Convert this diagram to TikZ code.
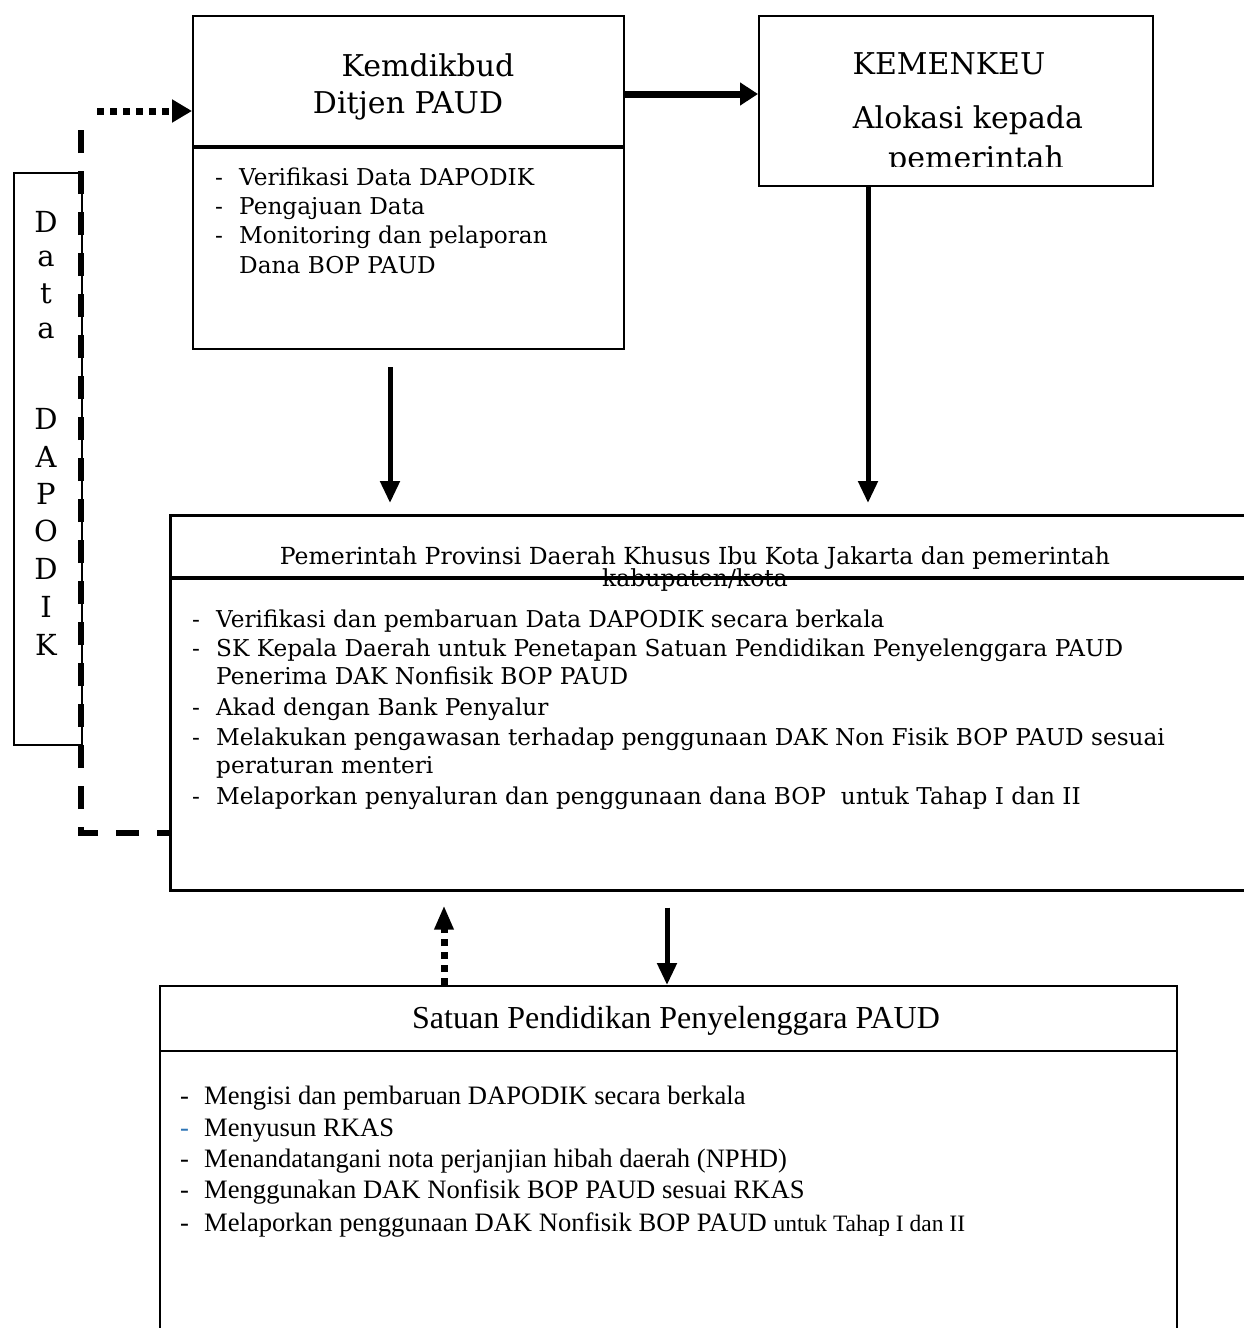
\documentclass[tikz,border=0pt]{standalone}
\usepackage{fontspec}
\setmainfont{DejaVu Serif}
\newfontfamily\tnr{Liberation Serif}
\usetikzlibrary{arrows.meta}
\definecolor{dashblue}{RGB}{46,117,182}
\begin{document}
\begin{tikzpicture}[x=1pt,y=-1pt,
  box/.style={draw,line width=2pt,inner sep=0,anchor=north west},
  divider/.style={line width=3.5pt},
  txt/.style={inner sep=0,anchor=base west,font=\fontsize{23.2}{28}\selectfont},
  ttl/.style={inner sep=0,anchor=base,font=\fontsize{30}{36}\selectfont},
  ptl/.style={inner sep=0,anchor=base,font=\fontsize{23.5}{28}\selectfont},
  vlet/.style={inner sep=0,anchor=base,font=\fontsize{29}{34}\selectfont},
  tr/.style={inner sep=0,anchor=base west,font=\tnr\fontsize{26.6}{32}\selectfont},
  trt/.style={inner sep=0,anchor=base,font=\tnr\fontsize{32}{38}\selectfont},
  varr/.style={line width=5pt,-{Triangle[length=22pt,width=19pt]}},
  harr/.style={line width=7pt,-{Triangle[length=18pt,width=22pt]}},
  dashline/.style={line width=6pt,dash pattern=on 23pt off 18pt},
  dotline/.style={line width=7pt,dash pattern=on 7pt off 6pt},
]
\clip (0,0) rectangle (1244,1328);
\fill[white] (0,0) rectangle (1244,1328);

% ---------- boxes ----------
\node[box,minimum width=431pt,minimum height=333pt] (kemd) at (192,15) {};
\node[box,minimum width=394pt,minimum height=170pt] (kem) at (758,15) {};
\node[box,minimum width=1100pt,minimum height=375pt,line width=2.5pt] (pemda) at (169,514) {};
\node[box,minimum width=1017pt,minimum height=360pt] (sat) at (159,985) {};
\node[box,minimum width=68pt,minimum height=572pt] (dapo) at (13,172) {};

\draw[divider] (kemd.west |- 0,147) -- (kemd.east |- 0,147);
\draw[divider] (pemda.west |- 0,578) -- (1244,578);
\draw[line width=2.5pt] (sat.west |- 0,1051) -- (sat.east |- 0,1051);

% ---------- Kemdikbud ----------
\node[ttl] (kt1) at (428,76) {Kemdikbud};
\node[ttl] (kt2) at (408,113) {Ditjen PAUD};
\foreach \y [count=\i] in {185,214,243}
  \node[txt] (kdd\i) at (215,\y) {-};
\node[txt] (kd1) at (239,185) {Verifikasi Data DAPODIK};
\node[txt] (kd2) at (239,214) {Pengajuan Data};
\node[txt] (kd3) at (239,243) {Monitoring dan pelaporan};
\node[txt] (kd4) at (239,273) {Dana BOP PAUD};

% ---------- KEMENKEU ----------
\node[ttl] (km1) at (949,74) {KEMENKEU};
\node[ttl] (km2) at (968,128) {Alokasi kepada};
\begin{scope}
  \clip (758,15) rectangle (1152,166);
  \node[ttl] (km3) at (976,168) {pemerintah};
\end{scope}

% ---------- Pemerintah Daerah ----------
\node[ptl] (pt1) at (695,564) {Pemerintah Provinsi Daerah Khusus Ibu Kota Jakarta dan pemerintah};
\node[ptl] (pt2) at (695,586) {kabupaten/kota};
\foreach \y [count=\i] in {627,656,715,745,804}
  \node[txt] (pdd\i) at (192,\y) {-};
\node[txt] (pd1) at (216,627) {Verifikasi dan pembaruan Data DAPODIK secara berkala};
\node[txt] (pd2) at (216,656) {SK Kepala Daerah untuk Penetapan Satuan Pendidikan Penyelenggara PAUD};
\node[txt] (pd3) at (216,684) {Penerima DAK Nonfisik BOP PAUD};
\node[txt] (pd4) at (216,715) {Akad dengan Bank Penyalur};
\node[txt] (pd5) at (216,745) {Melakukan pengawasan terhadap penggunaan DAK Non Fisik BOP PAUD sesuai};
\node[txt] (pd6) at (216,773) {peraturan menteri};
\node[txt] (pd7) at (216,804) {Melaporkan penyaluran dan penggunaan dana BOP \ untuk Tahap I dan II};

% ---------- Satuan Pendidikan ----------
\node[trt] (st) at (676,1028) {Satuan Pendidikan Penyelenggara PAUD};
\node[tr] (sdd1) at (180,1104) {-};
\node[tr,text=dashblue] (sdd2) at (180,1136) {-};
\node[tr] (sdd3) at (180,1167) {-};
\node[tr] (sdd4) at (180,1198) {-};
\node[tr] (sdd5) at (180,1231) {-};
\node[tr] (sd1) at (204,1104) {Mengisi dan pembaruan DAPODIK secara berkala};
\node[tr] (sd2) at (204,1136) {Menyusun RKAS};
\node[tr] (sd3) at (204,1167) {Menandatangani nota perjanjian hibah daerah (NPHD)};
\node[tr] (sd4) at (204,1198) {Menggunakan DAK Nonfisik BOP PAUD sesuai RKAS};
\node[tr] (sd5) at (204,1231) {Melaporkan penggunaan DAK Nonfisik BOP PAUD {\fontsize{23.5}{28}\selectfont untuk Tahap I dan II}};

% ---------- Data DAPODIK (vertical) ----------
\foreach \l/\y [count=\i] in {D/232,a/266,t/303,a/338,D/429,A/467,P/504,O/541,D/579,I/617,K/655}
  \node[vlet] (dl\i) at (46,\y) {\l};

% ---------- connectors ----------
\coordinate (kx) at (0,94);
\coordinate (cx1) at (390,0);
\coordinate (cx2) at (868,0);
\coordinate (cx3) at (444,0);
\coordinate (cx4) at (667,0);
\coordinate (fb) at (0,833);
\coordinate (corner) at (81,833);
\coordinate (ctop) at (81,113);
\coordinate (dstart) at (97,111);

\draw[harr] (kemd.east |- kx) -- (kem.west |- kx);
\draw[varr,shorten <=17pt,shorten >=11pt] (kemd.south -| cx1) -- (pemda.north -| cx1);
\draw[varr,shorten >=11pt] (kem.south -| cx2) -- (pemda.north -| cx2);
\draw[varr,shorten <=16pt] (pemda.south -| cx4) -- (sat.north -| cx4);
\draw[dotline,-{Triangle[length=24pt,width=18pt]},shorten >=14pt] (sat.north -| cx3) -- (pemda.south -| cx3);
\draw[dashline,dash phase=11pt] (pemda.west |- fb) -- (corner) -- (ctop);
\draw[dotline,-{Triangle[length=20pt,width=22pt]}] (dstart) -- (kemd.west |- dstart);
\end{tikzpicture}
\end{document}
